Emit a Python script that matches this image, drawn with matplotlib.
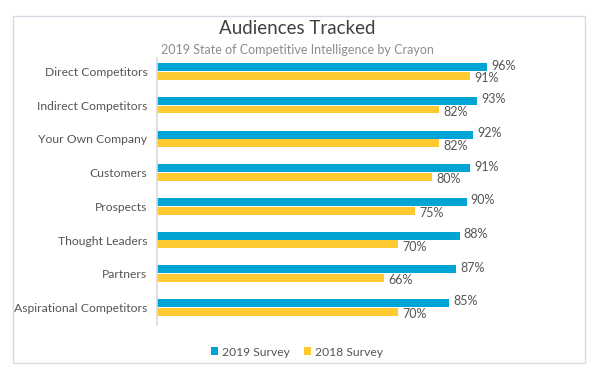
import matplotlib.pyplot as plt
import matplotlib.patches as patches
import numpy as np

categories = ['Direct Competitors', 'Indirect Competitors', 'Your Own Company', 'Customers',
              'Prospects', 'Thought Leaders', 'Partners', 'Aspirational Competitors']
survey_2019 = [96, 93, 92, 91, 90, 88, 87, 85]
survey_2018 = [91, 82, 82, 80, 75, 70, 66, 70]

blue = '#00A5D6'
yellow = '#FFCA2F'
grey_text = '#555555'

plt.rcParams['font.family'] = ['Lato', 'DejaVu Sans']

W, H = 590, 378
fig = plt.figure(figsize=(W / 100, H / 100), dpi=100)

# outer frame
fig.patches.append(patches.Rectangle((13 / W, 1 - 363 / H), 572 / W, 347 / H,
                                     transform=fig.transFigure, fill=False,
                                     edgecolor='#D3DCE4', linewidth=1))

fig.text(297 / W, 1 - 29 / H, 'Audiences Tracked', ha='center', va='center',
         fontsize=13.5, color='#404040')
fig.text(297 / W, 1 - 50 / H, '2019 State of Competitive Intelligence by Crayon', ha='center',
         va='center', fontsize=9, color='#8C8C8C')

ax = fig.add_axes([157 / W, 1 - 325 / H, (501 - 157) / W, (325 - 58) / H])

y = np.arange(len(categories))
h = 0.235
ax.barh(y - h / 2 - 0.01, survey_2019, height=h, color=blue, label='2019 Survey')
ax.barh(y + h / 2 + 0.01, survey_2018, height=h, color=yellow, label='2018 Survey')

for i in range(len(categories)):
    ax.text(survey_2019[i] + 1.2, y[i] - h / 2 - 0.06, f'{survey_2019[i]}%', va='center',
            ha='left', fontsize=9, color=grey_text)
    ax.text(survey_2018[i] + 1.2, y[i] + h / 2 + 0.08, f'{survey_2018[i]}%', va='center',
            ha='left', fontsize=9, color=grey_text)

ax.set_xlim(0, 100)
ax.set_ylim(7.52, -0.4)
ax.set_yticks(y)
ax.set_yticklabels(categories, fontsize=8.7, color=grey_text)
ax.set_xticks([])
ax.tick_params(axis='y', length=0, pad=7)
for s in ['top', 'right', 'bottom']:
    ax.spines[s].set_visible(False)
ax.spines['left'].set_color('#D9D9D9')
ax.spines['left'].set_linewidth(1.2)

fig.legend(loc='center', bbox_to_anchor=(297 / W, 1 - 352 / H), ncol=2, frameon=False,
           fontsize=8.7, handlelength=0.6, handleheight=0.6, handletextpad=0.3,
           columnspacing=1.2, labelcolor=grey_text)

fig.savefig('out.png', dpi=100)
